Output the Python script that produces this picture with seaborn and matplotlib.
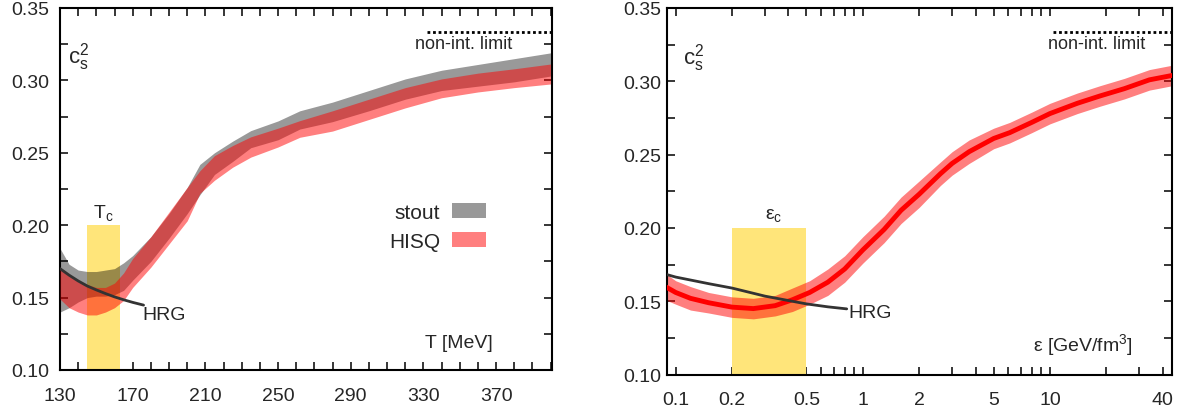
import numpy as np
import pandas as pd
import seaborn as sns
import matplotlib.pyplot as plt
from matplotlib.patches import Patch

# ---- left panel: c_s^2 vs T ----
T_vals = [130, 135, 140, 145, 150, 155, 160, 165, 170, 180, 190, 200, 207, 215,
          225, 235, 250, 262, 280, 300, 320, 340, 360, 380, 400]
stout_lo = [0.140, 0.143, 0.147, 0.150, 0.151, 0.151, 0.152, 0.155, 0.162, 0.175, 0.191,
            0.208, 0.221, 0.235, 0.244, 0.2535, 0.259, 0.2664, 0.2715, 0.279, 0.287,
            0.293, 0.296, 0.299, 0.303]
stout_hi = [0.184, 0.173, 0.169, 0.168, 0.168, 0.169, 0.170, 0.174, 0.179, 0.192, 0.208,
            0.226, 0.242, 0.250, 0.258, 0.2653, 0.272, 0.279, 0.285, 0.293, 0.301,
            0.307, 0.311, 0.315, 0.319]
hisq_lo = [0.149, 0.143, 0.140, 0.138, 0.138, 0.140, 0.143, 0.148, 0.157, 0.171, 0.187,
           0.203, 0.222, 0.231, 0.240, 0.247, 0.254, 0.2607, 0.265, 0.273, 0.281,
           0.288, 0.292, 0.295, 0.2975]
hisq_hi = [0.171, 0.166, 0.162, 0.159, 0.157, 0.157, 0.160, 0.167, 0.177, 0.192, 0.209,
           0.226, 0.2376, 0.248, 0.255, 0.261, 0.267, 0.2722, 0.279, 0.287, 0.295,
           0.301, 0.305, 0.308, 0.3113]

T_hrg = [130, 135, 140, 145, 150, 155, 160, 165, 170, 176]
cs2_hrg_T = [0.1700, 0.1655, 0.1615, 0.1580, 0.1553, 0.1528, 0.1505, 0.1485, 0.1467, 0.1448]

Tc_range = [145, 163]
T_ticks = [130, 140, 150, 160, 170, 180, 190, 200, 210, 220, 230, 240, 250, 260, 270,
           280, 290, 300, 310, 320, 330, 340, 350, 360, 370, 380, 390, 400]
T_ticklabels = ["130", "", "", "", "170", "", "", "", "210", "", "", "", "250", "", "",
                "", "290", "", "", "", "330", "", "", "", "370", "", "", ""]

# ---- right panel: c_s^2 vs energy density ----
eps_vals = [0.088, 0.10, 0.12, 0.15, 0.20, 0.26, 0.34, 0.42, 0.52, 0.65, 0.80, 1.0, 1.3,
            1.6, 2.0, 2.6, 3.0, 3.7, 5.0, 6.1, 8.0, 10, 14, 18.5, 25, 34, 45]
cs2_eps = [0.160, 0.156, 0.152, 0.149, 0.146, 0.145, 0.147, 0.151, 0.156, 0.163, 0.172,
           0.185, 0.199, 0.212, 0.223, 0.237, 0.244, 0.252, 0.261, 0.265, 0.272, 0.278,
           0.285, 0.290, 0.295, 0.301, 0.304]
cs2_eps_err = [0.009, 0.008, 0.008, 0.007, 0.007, 0.007, 0.007, 0.008, 0.008, 0.009,
               0.009, 0.009, 0.009, 0.009, 0.009, 0.008, 0.008, 0.008, 0.007, 0.007,
               0.007, 0.007, 0.007, 0.007, 0.007, 0.007, 0.007]

eps_hrg = [0.088, 0.10, 0.15, 0.20, 0.30, 0.40, 0.50, 0.65, 0.82]
cs2_hrg_eps = [0.1685, 0.1665, 0.1620, 0.1590, 0.1535, 0.1505, 0.1482, 0.1462, 0.1448]

epsc_range = [0.2, 0.5]
eps_ticks = [0.1, 0.2, 0.3, 0.4, 0.5, 0.6, 0.7, 0.8, 0.9, 1, 2, 3, 4, 5, 6, 7, 8, 9,
             10, 20, 30, 40]
eps_ticklabels = ["0.1", "0.2", "", "", "0.5", "", "", "", "", "1", "2", "", "", "5",
                  "", "", "", "", "10", "", "", "40"]

y_ticks = [0.10, 0.125, 0.15, 0.175, 0.20, 0.225, 0.25, 0.275, 0.30, 0.325, 0.35]
y_ticklabels = ["0.10", "", "0.15", "", "0.20", "", "0.25", "", "0.30", "", "0.35"]
cs2_limit = 1 / 3
band_top = 0.20

sns.set_style("ticks")
plt.rcParams["font.family"] = ["Liberation Sans", "DejaVu Sans"]
plt.rcParams["mathtext.fontset"] = "custom"
plt.rcParams["mathtext.rm"] = "Liberation Sans"
plt.rcParams["mathtext.it"] = "Liberation Sans"

YELLOW = "#ffe57a"
fig = plt.figure(figsize=(11.81, 4.14), dpi=100)
ax1 = fig.add_axes([0.0508, 0.1039, 0.4166, 0.8744])
ax2 = fig.add_axes([0.5645, 0.0928, 0.4276, 0.8855])


def style_axis(ax, ypad):
    for s in ax.spines.values():
        s.set_linewidth(1.5)
        s.set_color("black")
    ax.tick_params(which="both", direction="in", top=True, right=True,
                   length=6, width=1.1, color="black", labelsize=14)
    ax.tick_params(axis="x", which="both", pad=12)
    ax.tick_params(axis="y", which="both", pad=ypad)
    ax.set_ylim(0.10, 0.35)
    ax.set_yticks(y_ticks)
    ax.set_yticklabels(y_ticklabels)
    ax.set_xlabel("")
    ax.set_ylabel("")


# left panel
df_T = pd.DataFrame({"T": T_vals, "stout_lo": stout_lo, "stout_hi": stout_hi,
                     "hisq_lo": hisq_lo, "hisq_hi": hisq_hi})
ax1.fill_between(Tc_range, 0.10, band_top, color=YELLOW, lw=0, zorder=1)
ax1.fill_between(df_T["T"], df_T["stout_lo"], df_T["stout_hi"], color="black",
                 alpha=0.4, lw=0, zorder=2)
ax1.fill_between(df_T["T"], df_T["hisq_lo"], df_T["hisq_hi"], color="red",
                 alpha=0.5, lw=0, zorder=3)
sns.lineplot(x=T_hrg, y=cs2_hrg_T, ax=ax1, color="#333333", lw=2, zorder=4)
ax1.plot([332, 400], [cs2_limit, cs2_limit], color="black", ls=(0, (1, 1)), lw=2)
ax1.set_xlim(130, 400.8)
ax1.set_xticks(T_ticks)
ax1.set_xticklabels(T_ticklabels)
style_axis(ax1, 8)
ax1.text(0.016, 0.867, r"$\mathrm{c}_\mathrm{s}^2$", transform=ax1.transAxes,
         fontsize=16, va="center", ha="left")
ax1.text(352, 0.3255, "non-int. limit", fontsize=13, ha="center", va="center")
ax1.text(154, 0.209, r"T$_\mathrm{c}$", fontsize=14, ha="center", va="center")
ax1.text(175.6, 0.1385, "HRG", fontsize=14, ha="left", va="center")
ax1.text(0.88, 0.077, "T [MeV]", transform=ax1.transAxes, fontsize=14,
         ha="right", va="center")
ax1.legend(handles=[Patch(facecolor="black", alpha=0.4, lw=0, label="stout"),
                    Patch(facecolor="red", alpha=0.5, lw=0, label="HISQ")],
           loc="upper right", bbox_to_anchor=(0.866, 0.462), frameon=False,
           markerfirst=False, fontsize=15, handlelength=1.65, handleheight=0.72,
           handletextpad=0.55, labelspacing=0.5, borderpad=0, borderaxespad=0)

# right panel
df_e = pd.DataFrame({"eps": eps_vals, "cs2": cs2_eps, "err": cs2_eps_err})
ax2.set_xscale("log")
ax2.fill_between(epsc_range, 0.10, band_top, color=YELLOW, lw=0, zorder=1)
ax2.fill_between(df_e["eps"], df_e["cs2"] - df_e["err"], df_e["cs2"] + df_e["err"],
                 color="red", alpha=0.5, lw=0, zorder=2)
sns.lineplot(data=df_e, x="eps", y="cs2", ax=ax2, color="red", lw=3.5, zorder=3)
sns.lineplot(x=eps_hrg, y=cs2_hrg_eps, ax=ax2, color="#333333", lw=2, zorder=4)
ax2.plot([10.4, 45], [cs2_limit, cs2_limit], color="black", ls=(0, (1, 1)), lw=2)
ax2.set_xlim(0.0895, 44.7)
ax2.set_xticks(eps_ticks)
ax2.set_xticklabels(eps_ticklabels)
ax2.xaxis.set_minor_locator(plt.NullLocator())
style_axis(ax2, 4)
ax2.text(0.033, 0.867, r"$\mathrm{c}_\mathrm{s}^2$", transform=ax2.transAxes,
         fontsize=16, va="center", ha="left")
ax2.text(17.66, 0.3255, "non-int. limit", fontsize=13, ha="center", va="center")
ax2.text(0.332, 0.2095, r"ε$_\mathrm{c}$", fontsize=14, ha="center", va="center")
ax2.text(0.835, 0.1425, "HRG", fontsize=14, ha="left", va="center")
ax2.text(0.924, 0.083, r"ε [GeV/fm$^3$]", transform=ax2.transAxes, fontsize=14,
         ha="right", va="center")

fig.savefig("out.png", dpi=100)
